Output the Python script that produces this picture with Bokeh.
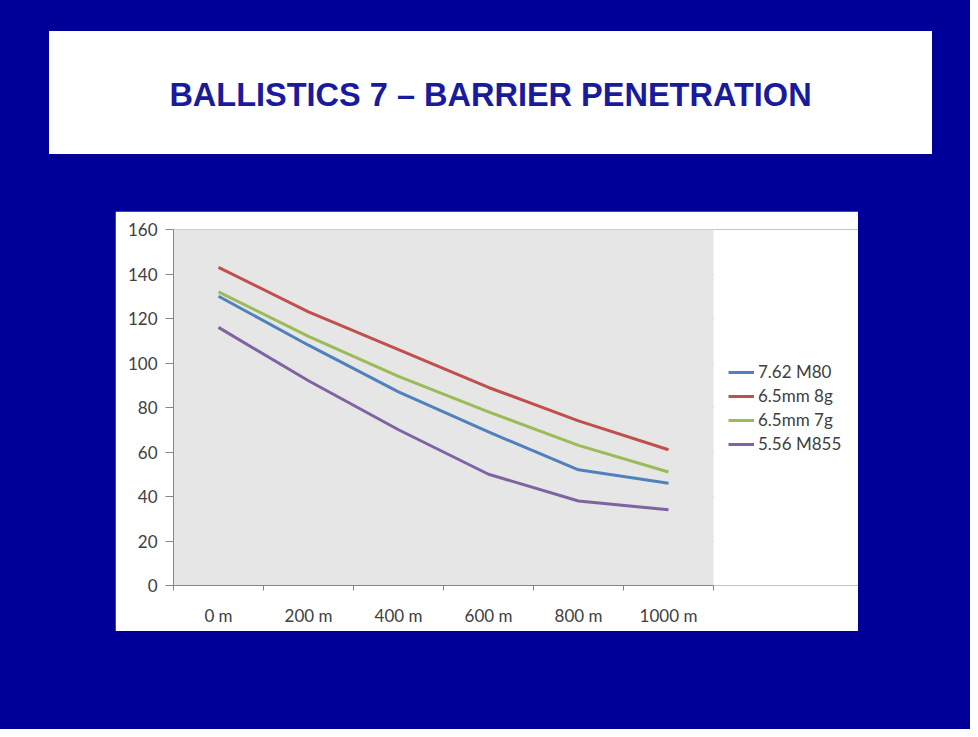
from bokeh.plotting import figure
from bokeh.layouts import column
from bokeh.models import Range1d, FixedTicker, Legend, LegendItem, Div, BoxAnnotation
from bokeh.embed import file_html
from bokeh.resources import INLINE

TITLE = "BALLISTICS 7 \u2013 BARRIER PENETRATION"
categories = ["0 m", "200 m", "400 m", "600 m", "800 m", "1000 m"]
series_names = ["7.62 M80", "6.5mm 8g", "6.5mm 7g", "5.56 M855"]
m80 = [130, 108, 87, 69, 52, 46]
mm65_8g = [143, 123, 106, 89, 74, 61]
mm65_7g = [132, 112, 94, 78, 63, 51]
m855 = [116, 92, 70, 50, 38, 34]
y_ticks = [0, 20, 40, 60, 80, 100, 120, 140, 160]

series = [m80, mm65_8g, mm65_7g, m855]
colors = ["#4F81BD", "#C0504D", "#9BBB59", "#8064A2"]
BG = "#000099"
FONT = "Lato"
N = len(categories)
YMAX = y_ticks[-1]

# Title panel
title_html = (
    '<div style="width:883px;height:123px;box-sizing:border-box;padding-top:5px;'
    'display:flex;align-items:center;'
    'justify-content:center;font-family:\'Liberation Sans\',Arial,sans-serif;'
    'font-weight:bold;font-size:32.5px;color:#1a1a9c;background:white;">'
    + TITLE + '</div>'
)
tp = Div(text=title_html, width=883, height=123, margin=(31, 0, 0, 49))

# Chart panel: the frame spans the plot area plus the legend area on the right
PLOT_W, FRAME_W = 540, 685
xs = [i + 0.5 for i in range(N)]
p = figure(width=743, height=420, x_range=Range1d(0, N * FRAME_W / PLOT_W), y_range=Range1d(0, YMAX),
           toolbar_location=None, output_backend="svg",
           min_border_left=58, min_border_right=0, min_border_top=18, min_border_bottom=46)
p.background_fill_color = "white"
p.border_fill_color = "white"
p.outline_line_color = None
p.add_layout(BoxAnnotation(left=0, right=N, bottom=0, top=YMAX, fill_color="#e6e6e6",
                           fill_alpha=1, line_color=None, level="underlay"))

p.xaxis.bounds = (0, N)
p.xaxis.ticker = FixedTicker(ticks=xs, minor_ticks=list(range(N + 1)))
p.xaxis.major_label_overrides = {x: c for x, c in zip(xs, categories)}
p.xaxis.major_tick_out = 0
p.xaxis.major_tick_in = 0
p.xaxis.minor_tick_out = 5
p.xaxis.minor_tick_in = 0
p.xaxis.minor_tick_line_color = "#868686"
p.xaxis.axis_line_color = "#868686"
p.xaxis.major_label_standoff = 14
p.xgrid.visible = False

p.yaxis.ticker = FixedTicker(ticks=y_ticks)
p.yaxis.major_tick_out = 8
p.yaxis.major_tick_in = 0
p.yaxis.minor_tick_out = 0
p.yaxis.minor_tick_in = 0
p.yaxis.major_tick_line_color = "#868686"
p.yaxis.axis_line_color = "#868686"
p.yaxis.major_label_standoff = 8
p.ygrid.grid_line_color = "#8c8c8c"
p.ygrid.grid_line_width = 1
p.ygrid.cross_bounds = (0, N)

for ax in (p.xaxis, p.yaxis):
    ax.major_label_text_font = FONT
    ax.major_label_text_font_size = "17px"
    ax.major_label_text_color = "#404040"

items = []
for name, ys, c in zip(series_names, series, colors):
    r = p.line(xs, ys, line_color=c, line_width=3)
    items.append(LegendItem(label=name, renderers=[r]))

legend = Legend(items=items, location=(555, 131), padding=0, margin=0, spacing=3,
                label_height=20, glyph_height=20, glyph_width=26, label_standoff=4,
                label_text_font=FONT, label_text_font_size="17px", label_text_color="#404040",
                border_line_color=None, background_fill_alpha=0)
p.add_layout(legend)
p.margin = (57, 0, 0, 115)

layout = column(tp, p, width=970, height=729, spacing=0,
                styles={"background-color": BG})

open("out.html", "w").write(file_html(layout, INLINE))
